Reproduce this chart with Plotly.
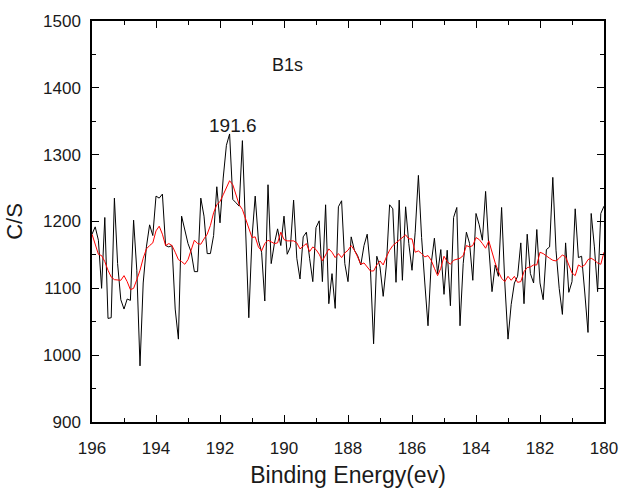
import numpy as np
import plotly.graph_objects as go

# Binding energy grid: 196.0 down to 180.0 eV in 0.1 eV steps
energy = np.round(np.linspace(196.0, 180.0, 161), 1)

# Raw B1s counts (C/S)
counts = [
    1181, 1192, 1172, 1100, 1206, 1055, 1056, 1235, 1137, 1083,
    1069, 1084, 1082, 1202, 1127, 984, 1108, 1162, 1195, 1179,
    1238, 1235, 1241, 1164, 1162, 1164, 1069, 1024, 1208, 1189,
    1167, 1154, 1125, 1125, 1235, 1208, 1152, 1152, 1179, 1252,
    1198, 1265, 1314, 1331, 1233, 1228, 1223, 1321, 1201, 1056,
    1176, 1238, 1172, 1154, 1081, 1255, 1137, 1167, 1189, 1164,
    1208, 1151, 1162, 1232, 1145, 1114, 1177, 1184, 1145, 1110,
    1191, 1201, 1110, 1225, 1077, 1122, 1070, 1222, 1231, 1137,
    1110, 1177, 1157, 1149, 1135, 1164, 1181, 1130, 1017, 1148,
    1132, 1088, 1135, 1225, 1219, 1109, 1232, 1112, 1222, 1167,
    1127, 1184, 1269, 1176, 1108, 1044, 1137, 1175, 1122, 1158,
    1091, 1157, 1074, 1206, 1221, 1044, 1137, 1184, 1167, 1112,
    1212, 1195, 1172, 1245, 1162, 1095, 1135, 1118, 1221, 1108,
    1024, 1076, 1108, 1118, 1168, 1077, 1181, 1122, 1108, 1188,
    1108, 1083, 1158, 1162, 1266, 1157, 1100, 1061, 1168, 1094,
    1110, 1219, 1146, 1148, 1093, 1034, 1212, 1162, 1095, 1212,
    1223,
]

# Smoothed B1s curve (C/S)
smoothed = [
    1181, 1167, 1151, 1149, 1140, 1127, 1117, 1113, 1112, 1112,
    1119, 1110, 1098, 1100, 1113, 1127, 1145, 1159, 1164, 1168,
    1186, 1193, 1181, 1164, 1167, 1164, 1154, 1143, 1140, 1136,
    1143, 1157, 1172, 1167, 1166, 1174, 1181, 1194, 1213, 1225,
    1230, 1240, 1250, 1261, 1255, 1240, 1225, 1218, 1203, 1191,
    1176, 1177, 1162, 1156, 1167, 1172, 1169, 1167, 1168, 1184,
    1173, 1171, 1171, 1171, 1168, 1159, 1163, 1167, 1155, 1162,
    1158, 1151, 1141, 1151, 1159, 1154, 1146, 1152, 1146, 1153,
    1157, 1164, 1157, 1147, 1136, 1138, 1132, 1126, 1126, 1135,
    1141, 1135, 1147, 1157, 1164, 1168, 1172, 1175, 1180, 1174,
    1174, 1154, 1156, 1152, 1147, 1149, 1142, 1130, 1119, 1130,
    1148, 1140, 1136, 1142, 1144, 1145, 1149, 1164, 1162, 1164,
    1176, 1173, 1167, 1160, 1171, 1154, 1138, 1125, 1115, 1110,
    1118, 1112, 1118, 1109, 1110, 1125, 1131, 1132, 1135, 1135,
    1154, 1152, 1148, 1145, 1142, 1141, 1145, 1150, 1147, 1135,
    1123, 1119, 1135, 1132, 1135, 1143, 1145, 1142, 1138, 1136,
    1154,
]

x_ticks = [196, 194, 192, 190, 188, 186, 184, 182, 180]
y_ticks = [900, 1000, 1100, 1200, 1300, 1400, 1500]

peak_label = "191.6"
peak_pos = (191.6, 1344)
line_label = "B1s"
line_label_pos = (189.9, 1434)

FONT = "Liberation Sans, Arial, Helvetica, sans-serif"
TEXT = "#1a1a1a"

fig = go.Figure()
fig.add_trace(go.Scatter(
    x=energy, y=counts, mode="lines",
    line=dict(color="#000000", width=1), showlegend=False,
))
fig.add_trace(go.Scatter(
    x=energy, y=smoothed, mode="lines",
    line=dict(color="#ff0000", width=1), showlegend=False,
))

fig.add_annotation(
    x=peak_pos[0], y=peak_pos[1], text=peak_label, showarrow=False,
    font=dict(family=FONT, size=19, color=TEXT),
)
fig.add_annotation(
    x=line_label_pos[0], y=line_label_pos[1], text=line_label, showarrow=False,
    font=dict(family=FONT, size=18, color=TEXT),
)

axis_common = dict(
    showgrid=False, zeroline=False,
    showline=True, linecolor="#000000", linewidth=1.5,
    ticks="inside", ticklen=7, tickwidth=1.2, tickcolor="#000000",
    tickfont=dict(family=FONT, size=17, color=TEXT),
    mirror="ticks",
)

fig.update_xaxes(
    range=[196, 180], tickmode="array", tickvals=x_ticks,
    ticktext=[str(v) for v in x_ticks],
    minor=dict(ticks="inside", ticklen=4, dtick=1, tick0=180,
               tickcolor="#000000", tickwidth=1.2),
    title=dict(text="Binding Energy(ev)", standoff=10,
               font=dict(family=FONT, size=23, color=TEXT)),
    ticklabelstandoff=10,
    **axis_common,
)
fig.update_yaxes(
    range=[900, 1500], tickmode="array", tickvals=y_ticks,
    ticktext=[str(v) for v in y_ticks],
    minor=dict(ticks="inside", ticklen=4, dtick=50, tick0=900,
               tickcolor="#000000", tickwidth=1.2),
    title=dict(text="C/S", standoff=14,
               font=dict(family=FONT, size=22, color=TEXT)),
    ticklabelstandoff=6,
    **axis_common,
)

fig.update_layout(
    width=630, height=496,
    margin=dict(l=92, r=18, t=21, b=68),
    paper_bgcolor="#ffffff", plot_bgcolor="#ffffff",
)

fig.write_html("out.html")
